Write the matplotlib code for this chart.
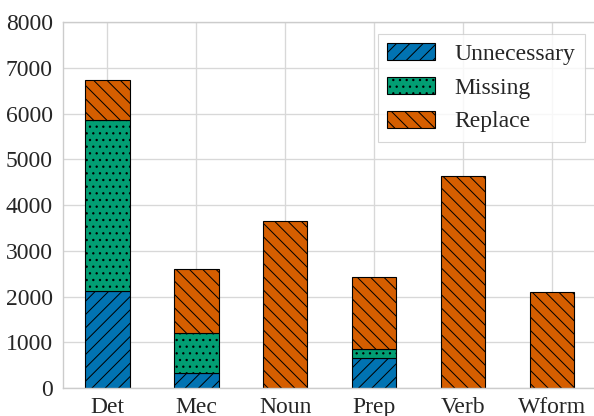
import matplotlib.pyplot as plt
import numpy as np
import seaborn as sns

categories = ['Det', 'Mec', 'Noun', 'Prep', 'Verb', 'Wform']
unnecessary = [2120, 320, 0, 660, 0, 0]
missing = [3750, 875, 0, 205, 0, 0]
replace = [860, 1405, 3650, 1555, 4635, 2100]

sns.set_theme(style='whitegrid')
plt.rcParams['font.family'] = ['Liberation Serif', 'DejaVu Serif']
plt.rcParams['hatch.linewidth'] = 0.9

colors = sns.color_palette('colorblind')
blue, green, orange = colors[0], colors[2], colors[3]

fs = 21.25
fig, ax = plt.subplots(figsize=(7.425, 5.2), dpi=80)
x = np.arange(len(categories))
width = 0.5

# stacked bars: unnecessary at the bottom, then missing, then replace
bottom1 = np.array(unnecessary)
bottom2 = bottom1 + np.array(missing)
ax.bar(x, unnecessary, width, color=blue, edgecolor='black', hatch='//', label='Unnecessary')
ax.bar(x, missing, width, bottom=bottom1, color=green, edgecolor='black', hatch='..', label='Missing')
ax.bar(x, replace, width, bottom=bottom2, color=orange, edgecolor='black', hatch='\\\\', label='Replace')

ax.set_xticks(x)
ax.set_xticklabels(categories)
ax.set_xlim(-0.5, 5.5)
ax.set_ylim(0, 8000)
ax.set_yticks(range(0, 8001, 1000))
ax.tick_params(axis='x', labelsize=fs, pad=2)
ax.tick_params(axis='y', labelsize=fs, pad=3)
for s in ax.spines.values():
    s.set_color('#cccccc')
ax.grid(color='#d8d8d8', linewidth=1.2)

leg = ax.legend(fontsize=fs, loc='upper right', frameon=True, fancybox=False,
                edgecolor='#cccccc', handlelength=2.05, handleheight=0.74,
                borderpad=0.4, labelspacing=0.5, handletextpad=0.8,
                borderaxespad=0.5)
leg.get_frame().set_linewidth(1.0)

fig.subplots_adjust(left=0.106, right=1.004, top=0.947, bottom=0.067)
fig.savefig('out.png')
